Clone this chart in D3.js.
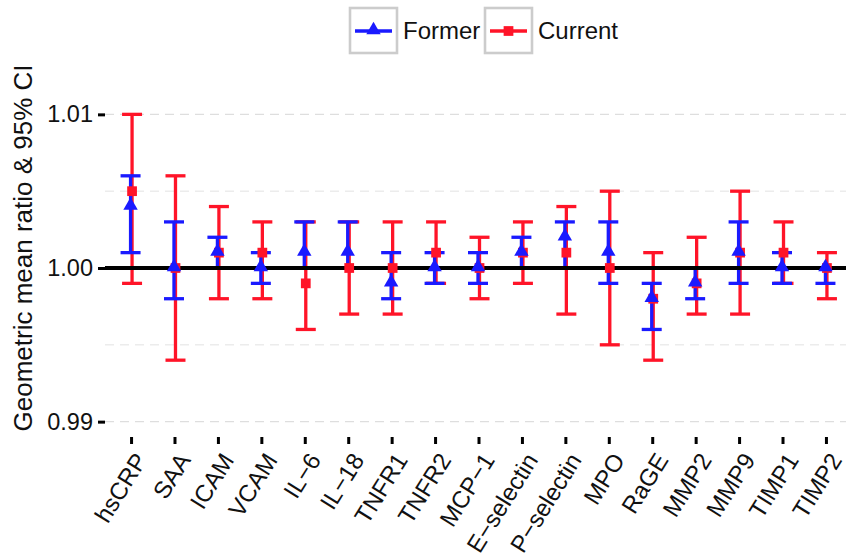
<!DOCTYPE html>
<html><head><meta charset="utf-8">
<script src="https://cdn.jsdelivr.net/npm/d3@7"></script>
<style>body{margin:0;background:#fff}svg{display:block}text{font-family:"Liberation Sans",Arial,sans-serif;fill:#111}</style>
</head><body>
<script>
const categories = ["hsCRP","SAA","ICAM","VCAM","IL\u22126","IL\u221218","TNFR1","TNFR2","MCP\u22121","E\u2212selectin","P\u2212selectin","MPO","RaGE","MMP2","MMP9","TIMP1","TIMP2"];
const formerEst = [1.004,1.000,1.001,1.000,1.001,1.001,0.999,1.000,1.000,1.001,1.002,1.001,0.998,0.999,1.001,1.000,1.000];
const formerLo  = [1.001,0.998,1.000,0.999,1.000,1.000,0.998,0.999,0.999,1.000,1.000,0.999,0.996,0.998,0.999,0.999,0.999];
const formerHi  = [1.006,1.003,1.002,1.001,1.003,1.003,1.001,1.001,1.001,1.002,1.003,1.003,0.999,1.000,1.003,1.001,1.000];
const currentEst = [1.005,1.000,1.001,1.001,0.999,1.000,1.000,1.001,1.000,1.001,1.001,1.000,0.998,0.999,1.001,1.001,1.000];
const currentLo  = [0.999,0.994,0.998,0.998,0.996,0.997,0.997,0.999,0.998,0.999,0.997,0.995,0.994,0.997,0.997,0.999,0.998];
const currentHi  = [1.010,1.006,1.004,1.003,1.003,1.003,1.003,1.003,1.002,1.003,1.004,1.005,1.001,1.002,1.005,1.003,1.001];
const yTicks = [0.99, 1.00, 1.01];
const yMinor = [0.995, 1.005];
const seriesNames = ["Former","Current"];

const W = 846, H = 557;
const BLUE = "#1a1aff", RED = "#ff1428";
const svg = d3.select("body").append("svg").attr("width", W).attr("height", H);

const x = d3.scalePoint().domain(categories).range([105, 852]).padding(0.6);
const y = d3.scaleLinear().domain([0.989, 1.011]).range([437, 99]);
const left = 105, right = 852;

// grid
svg.append("g").selectAll("line").data(yMinor).join("line")
  .attr("x1", left).attr("x2", right).attr("y1", d => y(d)).attr("y2", d => y(d))
  .attr("stroke", "#ececec").attr("stroke-width", 1.5).attr("stroke-dasharray", "9,6");
svg.append("g").selectAll("line").data(yTicks).join("line")
  .attr("x1", left).attr("x2", right).attr("y1", d => y(d)).attr("y2", d => y(d))
  .attr("stroke", "#dedede").attr("stroke-width", 1.2).attr("stroke-dasharray", "9,6");

// y axis
const yAxis = d3.axisLeft(y).tickValues(yTicks).tickFormat(d3.format(".2f")).tickSize(7).tickPadding(5);
const gy = svg.append("g").attr("transform", `translate(${left},0)`).call(yAxis);
gy.select(".domain").remove();
gy.selectAll(".tick line").attr("stroke", "#000").attr("stroke-width", 3);
gy.selectAll(".tick text").attr("font-size", 23.5).attr("fill", "#111").style("font-family", "Liberation Sans, Arial, sans-serif");

// x axis
const xAxis = d3.axisBottom(x).tickSize(7).tickPadding(4);
const gx = svg.append("g").attr("transform", `translate(0,437)`).call(xAxis);
gx.select(".domain").remove();
gx.selectAll(".tick line").attr("stroke", "#000").attr("stroke-width", 3);
gx.selectAll(".tick text").attr("font-size", 24).attr("fill", "#111")
  .style("font-family", "Liberation Sans, Arial, sans-serif")
  .attr("text-anchor", "end").attr("x", 0).attr("y", 0).attr("dy", "0.71em")
  .attr("transform", "translate(2,14) rotate(-58)");

// y title
svg.append("text").attr("transform", `translate(23,248) rotate(-90)`)
  .attr("text-anchor", "middle").attr("dy", "0.35em").attr("font-size", 26)
  .text("Geometric mean ratio & 95% CI");

function errorbars(lo, hi, color, off) {
  const g = svg.append("g").attr("stroke", color).attr("stroke-width", 3.3).attr("fill", "none");
  const idx = d3.range(categories.length);
  g.selectAll(".v").data(idx).join("line").attr("class", "v")
    .attr("x1", i => x(categories[i]) + off).attr("x2", i => x(categories[i]) + off)
    .attr("y1", i => y(lo[i])).attr("y2", i => y(hi[i]));
  g.selectAll(".t").data(idx).join("line").attr("class", "t")
    .attr("x1", i => x(categories[i]) + off - 10).attr("x2", i => x(categories[i]) + off + 10)
    .attr("y1", i => y(hi[i])).attr("y2", i => y(hi[i]));
  g.selectAll(".b").data(idx).join("line").attr("class", "b")
    .attr("x1", i => x(categories[i]) + off - 10).attr("x2", i => x(categories[i]) + off + 10)
    .attr("y1", i => y(lo[i])).attr("y2", i => y(lo[i]));
}
errorbars(currentLo, currentHi, RED, 1);
errorbars(formerLo, formerHi, BLUE, -0.5);

// reference line
svg.append("line").attr("x1", left).attr("x2", right).attr("y1", y(1)).attr("y2", y(1))
  .attr("stroke", "#000").attr("stroke-width", 4.2);

// points
const sq = d3.symbol().type(d3.symbolSquare).size(95);
const tri = d3.symbol().type(d3.symbolTriangle).size(90);
svg.append("g").selectAll("path").data(d3.range(categories.length)).join("path")
  .attr("d", sq).attr("fill", RED)
  .attr("transform", i => `translate(${x(categories[i]) + 1},${y(currentEst[i])})`);
svg.append("g").selectAll("path").data(d3.range(categories.length)).join("path")
  .attr("d", tri).attr("fill", BLUE)
  .attr("transform", i => `translate(${x(categories[i]) - 0.5},${y(formerEst[i]) - 1})`);

// legend
const legX = [350, 485];
const lg = svg.append("g");
seriesNames.forEach((name, k) => {
  const gx0 = legX[k], color = k === 0 ? BLUE : RED;
  const g = lg.append("g").attr("transform", `translate(${gx0},8)`);
  g.append("rect").attr("x", 0).attr("y", 0).attr("width", 47).attr("height", 45)
    .attr("fill", "#fff").attr("stroke", "#cccccc").attr("stroke-width", 2.6);
  g.append("line").attr("x1", 5).attr("x2", 42).attr("y1", 23).attr("y2", 23)
    .attr("stroke", color).attr("stroke-width", 3.3);
  g.append("path").attr("d", (k === 0 ? tri : sq)()).attr("fill", color)
    .attr("transform", `translate(23.5,${k === 0 ? 22 : 23})`);
  g.append("text").attr("x", 53).attr("y", 31).attr("font-size", 24).text(name);
});
</script>
</body></html>
